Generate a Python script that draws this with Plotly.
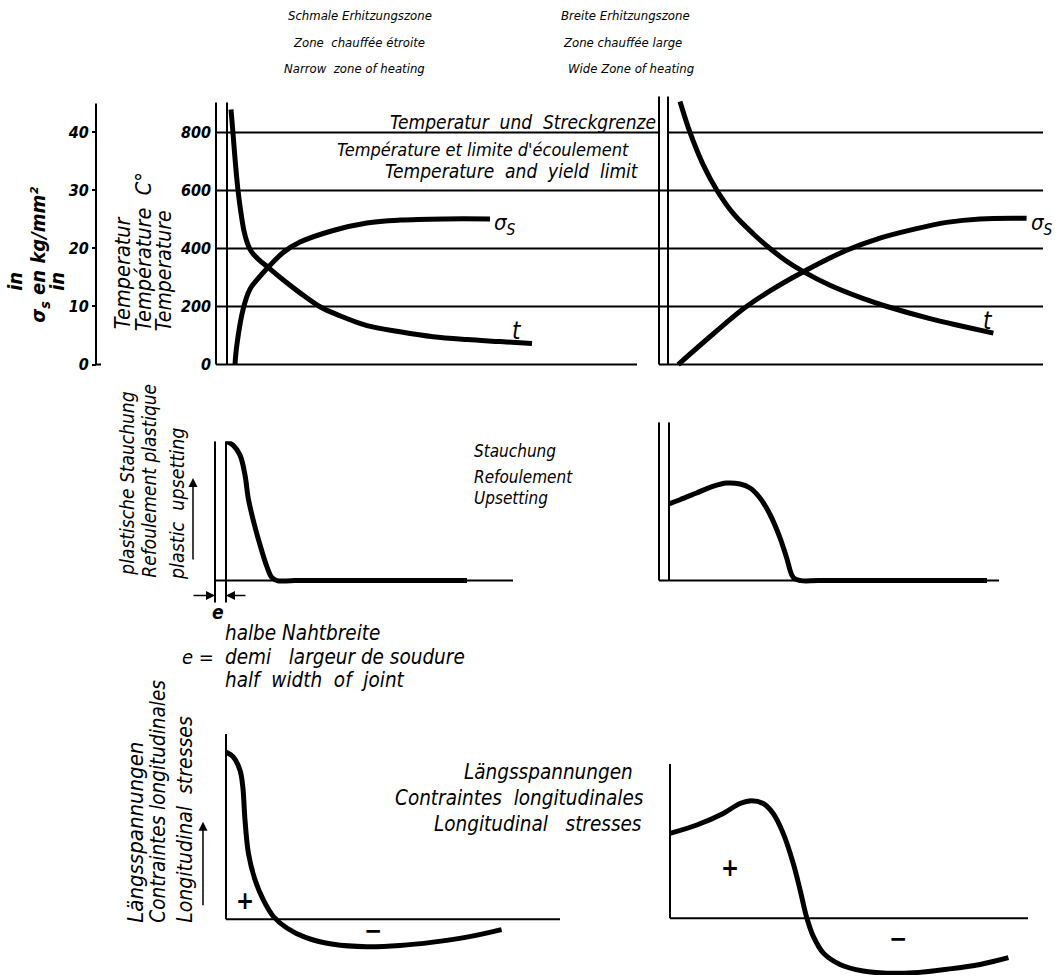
import plotly.graph_objects as go

W, H = 1057, 979
FONT = "DejaVu Sans Condensed, Liberation Sans Narrow, DejaVu Sans, sans-serif"

# ---------------- data ----------------
temp_ticks = [0, 200, 400, 600, 800]          # °C
sigma_ticks = [0, 10, 20, 30, 40]             # kg/mm²
grid_levels = [200, 400, 600, 800]

# narrow zone of heating: temperature t and yield limit sigma_s
narrow_t_x = [3.75, 4.25, 4.875, 5.5, 6.25, 7, 7.75, 8.5, 9.5, 10.75, 13, 16.75, 21, 26, 31, 37.75, 46, 54.25, 62.75, 71, 79]
narrow_t = [879, 797, 690, 601, 522, 460, 422, 397, 378, 361, 335, 292, 247, 199, 168, 134, 113, 96, 86, 79, 72]
narrow_s_x = [4.75, 5.2, 6.8, 8.5, 10.5, 13.1, 16.8, 21, 29.3, 37.7, 46, 57.25, 68.5]
narrow_s = [0, 3.3, 9.6, 13.0, 14.8, 16.8, 19.3, 21.1, 23.1, 24.4, 24.9, 25.1, 25.1]

# wide zone of heating
wide_t_x = [5.25, 7.75, 11, 14.5, 18.6, 23.6, 27.75, 31.9, 36.1, 42.75, 51.1, 57, 67.75, 76.1, 83.6]
wide_t = [907, 800, 690, 600, 520, 450, 400, 356, 320, 273, 227, 200, 158, 131, 108]
wide_s_x = [4.8, 13.6, 21.1, 27.75, 36.1, 46.9, 55.25, 63.6, 71.9, 80.25, 91.9]
wide_s = [0, 5.3, 9.6, 12.7, 16.0, 19.7, 21.8, 23.3, 24.5, 25.1, 25.2]

# plastic upsetting
ups_narrow_x = [2.75, 4.5, 6.25, 7.5, 8.3, 9.6, 11.25, 12.9, 14.2, 15.5, 20, 63]
ups_narrow = [35, 34, 31.5, 26.5, 20.75, 15, 9, 3.7, 0.8, 0, 0, 0]
ups_wide_x = [2.5, 5.25, 9.4, 13.6, 16.9, 20.25, 22.75, 25.25, 27.75, 30.25, 31.9, 33.6, 35.5, 40, 82]
ups_wide = [19.25, 20.3, 22, 23.7, 24.5, 24.25, 23.25, 20.75, 16.6, 10.75, 5.75, 0.75, 0, 0, 0]

# longitudinal residual stresses
long_narrow_x = [0, 1.8, 3.5, 4.2, 4.75, 5.6, 7.25, 9.3, 11.8, 15.2, 20.2, 26.8, 35.2, 43.5, 51.8, 60.2, 68.9]
long_narrow = [42, 40.75, 37.4, 33.25, 24.9, 16.6, 9.9, 4.9, 0.75, -2.2, -4.7, -6.3, -6.9, -6.6, -5.75, -4.5, -2.6]
long_wide_x = [0, 6.7, 13.3, 17.5, 20.4, 23.3, 25.8, 28.3, 30.8, 32.5, 34.2, 35.8, 38.3, 42.5, 48.3, 54.2, 60.8, 69.2, 77.5, 84.6]
long_wide = [21.3, 23.4, 26.3, 28.8, 29.5, 28.8, 26.3, 21.3, 13.8, 7.2, 0.1, -4.5, -8.7, -11.6, -13.25, -13.8, -13.7, -12.8, -11.6, -9.9]

e_narrow = 2.75
e_wide_top = 2.25
e_wide_mid = 2.5


def px(x):
    return x / W


def py(y):
    return 1 - y / H


fig = go.Figure()

CURVE = dict(color="black", width=5, shape="spline", smoothing=1.0)


def curve(x, y, xa, ya):
    fig.add_trace(go.Scatter(x=x, y=y, mode="lines", line=CURVE, xaxis=xa, yaxis=ya,
                             hoverinfo="skip", showlegend=False))


curve(narrow_t_x, narrow_t, "x", "y")
curve(narrow_s_x, narrow_s, "x", "y2")
curve(wide_t_x, wide_t, "x2", "y3")
curve(wide_s_x, wide_s, "x2", "y4")
curve(ups_narrow_x, ups_narrow, "x3", "y5")
curve(ups_wide_x, ups_wide, "x4", "y6")
curve(long_narrow_x, long_narrow, "x5", "y7")
curve(long_wide_x, long_wide, "x6", "y8")

# ---------------- shapes (in data coordinates of each panel) ----------------
def seg(x0, y0, x1, y1, xref, yref, w=2):
    fig.add_shape(type="line", x0=x0, y0=y0, x1=x1, y1=y1, xref=xref, yref=yref,
                  line=dict(color="black", width=w))

# top panels: gridlines and baselines
for lv in grid_levels:
    seg(0, lv, 110.75, lv, "x", "y")
    seg(e_wide_top if lv == 800 else 0, lv, 96, lv, "x2", "y3")
seg(0, 0, 105.25, 0, "x", "y")
seg(0, 0, 96, 0, "x2", "y3")
# weld edge double lines
seg(0, 0, 0, 903, "x", "y")
seg(e_narrow, 0, e_narrow, 903, "x", "y")
seg(0, 0, 0, 924, "x2", "y3")
seg(e_wide_top, 0, e_wide_top, 924, "x2", "y3")
# sigma axis line
seg(px(96), 0, px(96), 45, "paper", "y2")
seg(px(96), 0, px(101), 0, "paper", "y2")

# middle panels
seg(0, -5.5, 0, 35, "x3", "y5")
seg(e_narrow, -5.5, e_narrow, 35, "x3", "y5")
seg(0, 0, 74.5, 0, "x3", "y5")
seg(0, 0, 0, 39.75, "x4", "y6")
seg(e_wide_mid, 0, e_wide_mid, 39.75, "x4", "y6")
seg(0, 0, 85, 0, "x4", "y6")

# bottom panels
seg(0, 0, 0, 46.5, "x5", "y7")
seg(0, 0, 83.5, 0, "x5", "y7")
seg(0, 0, 0, 38.75, "x6", "y8")
seg(0, 0, 89.5, 0, "x6", "y8")

# ---------------- text ----------------
def txt(s, x, y, size=17, xanchor="left", yanchor="middle", angle=0, bold=False,
        xref="paper", yref="paper", paper=True):
    fig.add_annotation(text=s, x=px(x) if paper else x, y=py(y) if paper else y,
                       xref=xref, yref=yref, showarrow=False, xanchor=xanchor,
                       yanchor=yanchor, textangle=angle, borderpad=0,
                       font=dict(family=FONT, size=size, color="black", style="italic",
                                 weight="bold" if bold else "normal"))

# titles
txt("Schmale Erhitzungszone", 287, 16, 13)
txt("Zone  chauffée étroite", 292, 43, 13)
txt("Narrow  zone of heating", 283, 69, 13)
txt("Breite Erhitzungszone", 560, 16, 13)
txt("Zone chauffée large", 562, 43, 13)
txt("Wide Zone of heating", 567, 69, 13)

# temperature / yield limit text
txt("Temperatur  und  Streckgrenze", 657, 123, 19, xanchor="right")
txt("Température et limite d'écoulement", 630, 150, 18, xanchor="right")
txt("Temperature  and  yield  limit", 640, 172, 19, xanchor="right")

# left axis titles (rotated)
txt("in", 15, 283, 20, xanchor="center", angle=-90, bold=True)
txt("σ<sub>s</sub> en kg/mm²", 39, 325, 20, xanchor="center", yanchor="bottom", angle=-90, bold=True)
txt("in", 57, 283, 20, xanchor="center", angle=-90, bold=True)
txt("Temperatur", 122, 332, 21.5, xanchor="center", yanchor="bottom", angle=-90)
txt("Température  C°", 143, 334, 21.5, xanchor="center", yanchor="bottom", angle=-90)
txt("Temperature", 164, 334, 21, xanchor="center", yanchor="bottom", angle=-90)

# curve labels
txt("t", 75.25, 117, 24, xanchor="center", xref="x", yref="y", paper=False)
txt("σ<sub>S</sub>", 69.25, 481, 22, xanchor="left", xref="x", yref="y", paper=False)
txt("t", 82.25, 151, 24, xanchor="center", xref="x2", yref="y3", paper=False)
txt("σ<sub>S</sub>", 92.75, 484, 22, xanchor="left", xref="x2", yref="y3", paper=False)

# upsetting texts
txt("plastische Stauchung", 127, 579, 19, xanchor="center", yanchor="bottom", angle=-90)
txt("Refoulement plastique", 149, 581, 19, xanchor="center", yanchor="bottom", angle=-90)
txt("plastic  upsetting", 177, 584, 19.5, xanchor="center", yanchor="bottom", angle=-90)
txt("Stauchung", 473, 453, 17)
txt("Refoulement", 473, 479, 17)
txt("Upsetting", 473, 500, 17)
txt("e", 218, 615, 19, xanchor="center", bold=True)
txt("halbe Nahtbreite", 224, 636, 20.5)
txt("e =", 215, 660, 20, xanchor="right")
txt("demi   largeur de soudure", 224, 660, 20.5)
txt("half  width  of  joint", 224, 683, 20.5)

# longitudinal stress texts
txt("Längsspannungen", 136, 928, 22, xanchor="center", yanchor="bottom", angle=-90)
txt("Contraintes longitudinales", 158, 928, 20.5, xanchor="center", yanchor="bottom", angle=-90)
txt("Longitudinal  stresses", 185, 928, 21, xanchor="center", yanchor="bottom", angle=-90)
txt("Längsspannungen ", 640, 775, 20.5, xanchor="right")
txt("Contraintes  longitudinales", 645, 801, 20.5, xanchor="right")
txt("Longitudinal   stresses", 643, 827, 20.5, xanchor="right")

# plus / minus signs
txt("+", 4.75, 4.5, 24, xanchor="center", bold=True, xref="x5", yref="y7", paper=False)
txt("−", 36.75, -3, 24, xanchor="center", bold=True, xref="x5", yref="y7", paper=False)
txt("+", 15, 12.5, 24, xanchor="center", bold=True, xref="x6", yref="y8", paper=False)
txt("−", 57, -5.25, 24, xanchor="center", bold=True, xref="x6", yref="y8", paper=False)

# arrows
def arrow(xh, yh, dx, dy):
    fig.add_annotation(x=px(xh), y=py(yh), xref="paper", yref="paper", text="",
                       showarrow=True, ax=dx, ay=dy, arrowhead=2, arrowsize=1.2,
                       arrowwidth=1.5, arrowcolor="black")

arrow(193, 480, 0, 83)
arrow(203, 825, 0, 85)
arrow(215, 598, -23, 0)
arrow(226, 598, 21, 0)

# ---------------- axes ----------------
hidden = dict(visible=False, showgrid=False, zeroline=False)
tickfont = dict(family=FONT, size=16, color="black", style="italic", weight="bold")

fig.update_layout(
    width=W, height=H, margin=dict(l=0, r=0, t=0, b=0),
    paper_bgcolor="white", plot_bgcolor="rgba(0,0,0,0)", showlegend=False,
    xaxis=dict(domain=[px(212), px(659)], range=[-1, 110.75], anchor="y", **hidden),
    yaxis=dict(domain=[py(372), py(96)], range=[-20.6, 927], anchor="x",
               tickvals=temp_ticks, ticks="", showgrid=False, zeroline=False,
               showline=False, tickfont=tickfont),
    yaxis2=dict(overlaying="y", anchor="free", position=px(96), side="left",
                range=[-1.03, 46.35], tickvals=sigma_ticks, ticks="outside", ticklen=4,
                tickwidth=2, tickcolor="black", showgrid=False, zeroline=False,
                showline=False, tickfont=tickfont),
    xaxis2=dict(domain=[px(655), px(1043)], range=[-1, 96], anchor="y3", **hidden),
    yaxis3=dict(domain=[py(372), py(96)], range=[-20.6, 927], anchor="x2", **hidden),
    yaxis4=dict(overlaying="y3", range=[-1.03, 46.35], anchor="x2", **hidden),
    xaxis3=dict(domain=[px(211), px(515)], range=[-1, 75], anchor="y5", **hidden),
    yaxis5=dict(domain=[py(610), py(443)], range=[-6.75, 35], anchor="x3", **hidden),
    xaxis4=dict(domain=[px(655), px(999)], range=[-1, 85], anchor="y6", **hidden),
    yaxis6=dict(domain=[py(590), py(424)], range=[-1.75, 39.75], anchor="x4", **hidden),
    xaxis5=dict(domain=[px(222), px(560)], range=[-1, 83.5], anchor="y7", **hidden),
    yaxis7=dict(domain=[py(960), py(737)], range=[-9.25, 46.5], anchor="x5", **hidden),
    xaxis6=dict(domain=[px(666), px(1028)], range=[-1, 89.5], anchor="y8", **hidden),
    yaxis8=dict(domain=[0, py(767)], range=[-14.25, 38.75], anchor="x6", **hidden),
)

fig.write_html("out.html", config={"displayModeBar": False},
               post_script="document.body.style.margin='0';document.body.style.overflow='hidden';")
